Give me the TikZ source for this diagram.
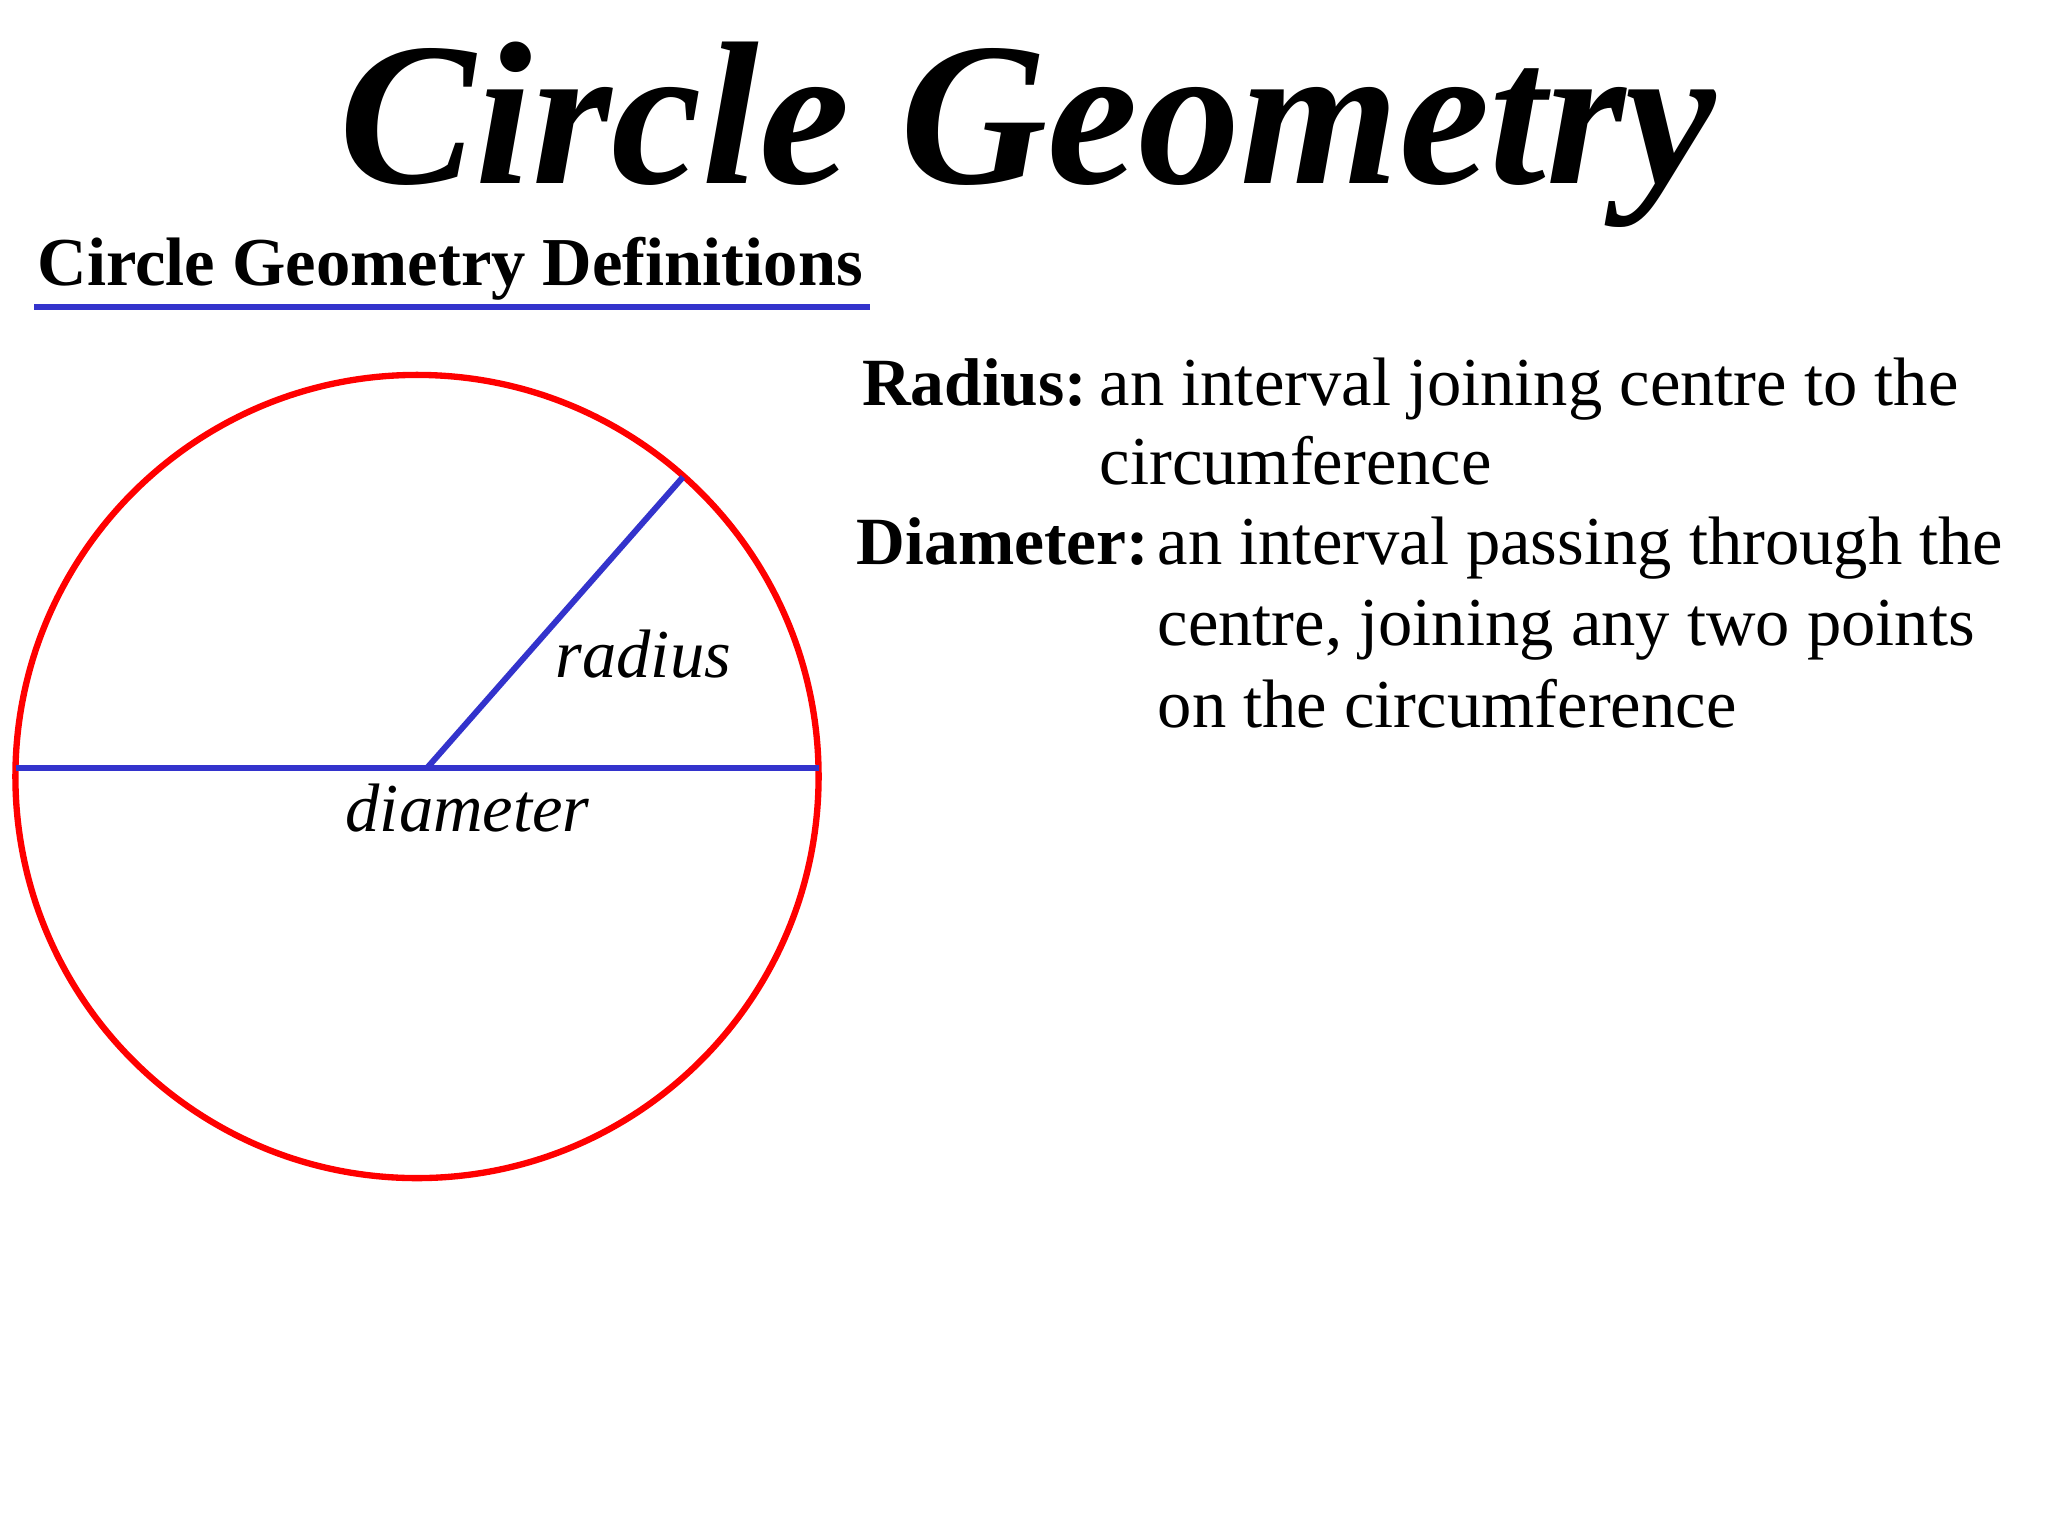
\documentclass[tikz,border=0pt]{standalone}
\usepackage{fontspec}
\setmainfont{Liberation Serif}
\definecolor{azulln}{RGB}{51,51,204}
\begin{document}
\begin{tikzpicture}[x=0.01cm,y=-0.01cm,every node/.style={inner sep=0pt},
    texto/.style={font=\fontsize{19.5}{23}\selectfont,anchor=base west},
    etiq/.style={font=\fontsize{19.2}{23}\selectfont\bfseries,anchor=base east},
    linea/.style={line width=1.7pt,azulln}]

    \def\rad{401.6}%Radio circulo
    \def\xt{1099}%Inicio texto Radius
    \def\xd{1157}%Inicio texto Diameter

    \useasboundingbox[fill=white] (0,0) rectangle (2048,1536);

    %Titulo
    \node[anchor=base,font=\fontsize{58}{60}\selectfont\bfseries\itshape] (titulo) at (1028,183) {Circle Geometry};
    \node[anchor=base west,font=\fontsize{19.5}{23}\selectfont\bfseries] (subtitulo) at (37,285) {Circle Geometry Definitions};
    \coordinate (ua) at (34,307);
    \coordinate (ub) at (870,307);
    \draw[linea] (ua)--(ub);

    %Circulo
    \coordinate (O) at (417,776.5);
    \coordinate (C) at (427,768);
    \coordinate (dl) at (15.5,768);
    \coordinate (dr) at (818.5,768);
    \coordinate (R) at (683,477);
    \draw[line width=1.8pt,red] (O) circle (\rad);
    \draw[linea] (dl)--(dr);
    \draw[linea] (C)--(R);
    \node[anchor=base west,font=\fontsize{19.5}{23}\selectfont\itshape] (lradio) at (555,677) {radius};
    \node[anchor=base west,font=\fontsize{19.5}{23}\selectfont\itshape] (ldiam) at (345,831) {diameter};

    %Definiciones
    \node[etiq] (radio) at (1088,405) {Radius:};
    \node[texto] (r1) at (\xt,405) {an interval joining centre to the};
    \node[texto] (r2) at (\xt,484) {circumference};
    \node[etiq] (diam) at (1150,564) {Diameter:};
    \foreach \t/\y [count=\i] in {an interval passing through the/564,{centre, joining any two points}/645,on the circumference/727}
        \node[texto] (d\i) at (\xd,\y) {\t};
\end{tikzpicture}
\end{document}
